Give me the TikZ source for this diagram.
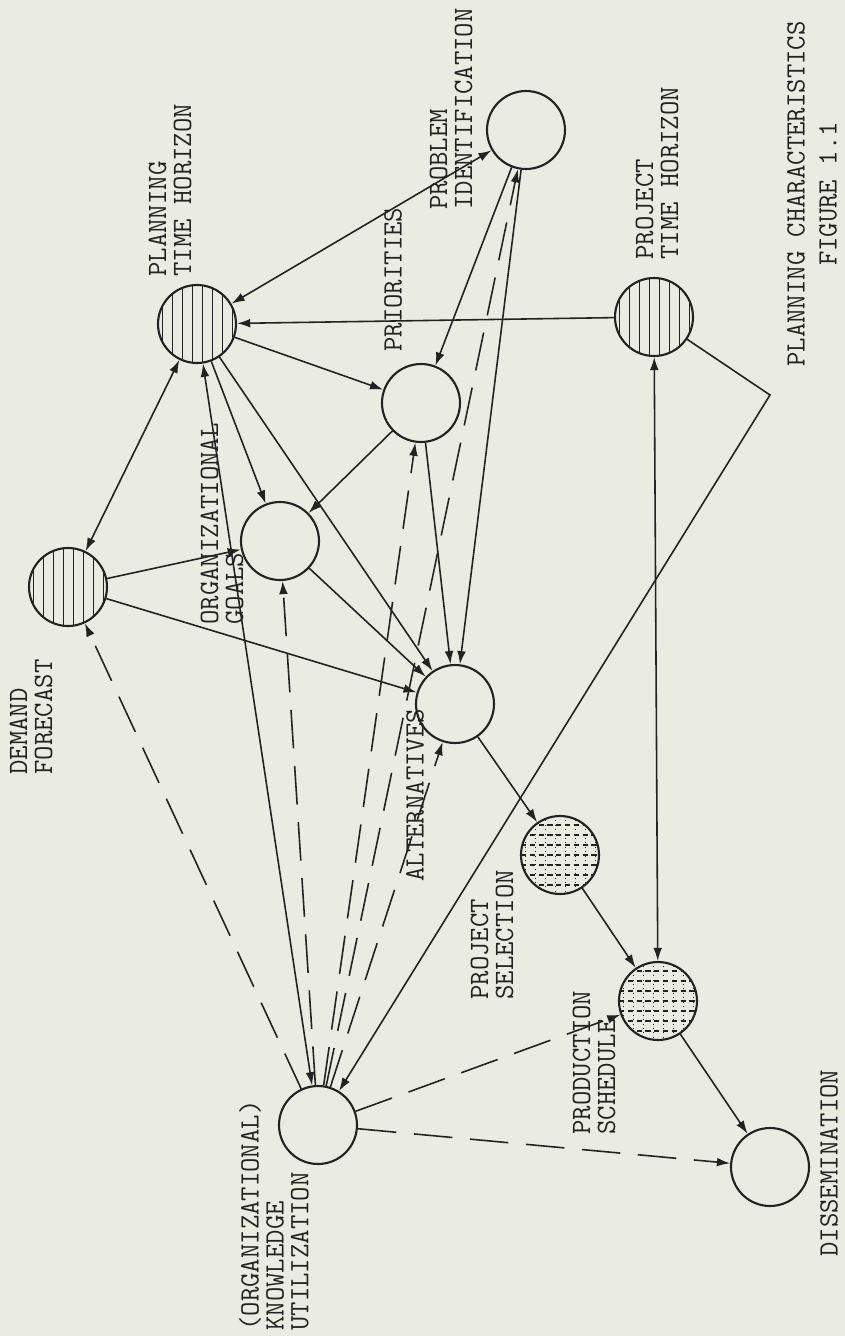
\documentclass[tikz,border=0pt]{standalone}
\usetikzlibrary{arrows.meta}

\definecolor{paper}{RGB}{234,235,225}
\definecolor{ink}{RGB}{34,34,34}

\tikzset{
  stage/.style={draw=ink, circle, line width=1.2pt, minimum size=1.56cm, inner sep=0pt},
  horizon/.style={stage, path picture={
    \foreach \i in {-3.5,-2.5,...,3.5}
      \draw [ink, line width=0.55pt] ([xshift={\i*0.2cm}]path picture bounding box.north) -- ([xshift={\i*0.2cm}]path picture bounding box.south);}},
  schedule/.style={stage, path picture={
    \foreach \i in {-3,...,3}
      \draw [ink, line width=0.6pt, densely dashed] ([yshift={\i*0.2cm}]path picture bounding box.west) -- ([yshift={\i*0.2cm}]path picture bounding box.east);
    \foreach \i in {-3.5,-2.5,...,3.5}
      \draw [ink, line width=0.5pt, dotted] ([xshift={\i*0.2cm}]path picture bounding box.north) -- ([xshift={\i*0.2cm}]path picture bounding box.south);}},
  tag/.style={rotate=90, anchor=west, align=left, inner sep=0pt, text=ink, font=\ttfamily\fontsize{15.9}{14.2}\selectfont},
  link/.style={draw=ink, line width=0.9pt},
  feed/.style={link, dash pattern=on 22pt off 10pt},
  >={Latex[length=7.5pt,width=5pt]}
}

\begin{document}
\begin{tikzpicture}[x=0.02cm, y=-0.02cm]
\fill [paper] (0,0) rectangle (845,1336);
\useasboundingbox (0,0) rectangle (845,1336);

\node [horizon] (pth) at (197, 324) {};
\node [stage] (pi) at (526, 130) {};
\node [horizon] (pthz) at (654, 317) {};
\node [stage] (pri) at (421, 403) {};
\node [stage] (og) at (280, 541) {};
\node [horizon] (df) at (68, 587) {};
\node [stage] (alt) at (455, 704) {};
\node [schedule] (ps) at (560, 855) {};
\node [schedule] (prs) at (658, 1001) {};
\node [stage] (dis) at (770, 1167) {};
\node [stage] (oku) at (318, 1125) {};
\coordinate (bend) at (770, 395);

\node [tag] (pthtext) at (170, 277) {PLANNING\\TIME HORIZON};
\node [tag] (pitext) at (451, 210) {PROBLEM\\IDENTIFICATION};
\node [tag] (pritext) at (393, 352) {PRIORITIES};
\node [tag] (pthztext) at (657, 260) {PROJECT\\TIME HORIZON};
\node [tag, align=center] (title) at (812, 367) {PLANNING CHARACTERISTICS\\[4pt]FIGURE 1.1};
\node [tag] (dftext) at (31, 775) {DEMAND\\FORECAST};
\node [tag] (ogtext) at (222, 625) {ORGANIZATIONAL\\GOALS};
\node [tag] (alttext) at (415, 882) {ALTERNATIVES};
\node [tag] (pstext) at (492, 1000) {PROJECT\\SELECTION};
\node [tag] (prstext) at (594, 1135) {PRODUCTION\\SCHEDULE};
\node [tag] (distext) at (829, 1257) {DISSEMINATION};
\node [tag] (okutext) at (274, 1331) {(ORGANIZATIONAL)\\KNOWLEDGE\\UTILIZATION};

\draw [link, <->] (pth) -- (pi);
\draw [link, ->] (pthz) -- (pth);
\draw [link, ->] (pth) -- (pri);
\draw [link, ->] (pth) -- (og);
\draw [link, ->] (pth) -- (alt);
\draw [link, <->] (pth) -- (oku);
\draw [link, <->] (df) -- (pth);
\draw [link, ->] (df) -- (og);
\draw [link, ->] (df) -- (alt);
\draw [link, ->] (pri) -- (og);
\draw [link, ->] (og) -- (alt);
\draw [link, ->] (pri) -- (alt);
\draw [link, ->] (pi) -- (pri);
\draw [link, ->] (pi) -- (alt);
\draw [link, ->] (alt) -- (ps);
\draw [link, ->] (ps) -- (prs);
\draw [link, ->] (prs) -- (dis);
\draw [link, <->] (pthz) -- (prs);
\draw [link, ->] (pthz) -- (bend) -- (oku);

\draw [feed, ->] (oku) -- (df);
\draw [feed, ->] (oku) -- (og);
\draw [feed, ->] (oku) -- (pri);
\draw [feed, ->] (oku) -- (alt);
\draw [feed, ->] (oku) -- (pi);
\draw [feed, ->] (oku) -- (prs);
\draw [feed, ->] (oku) -- (dis);
\end{tikzpicture}
\end{document}
